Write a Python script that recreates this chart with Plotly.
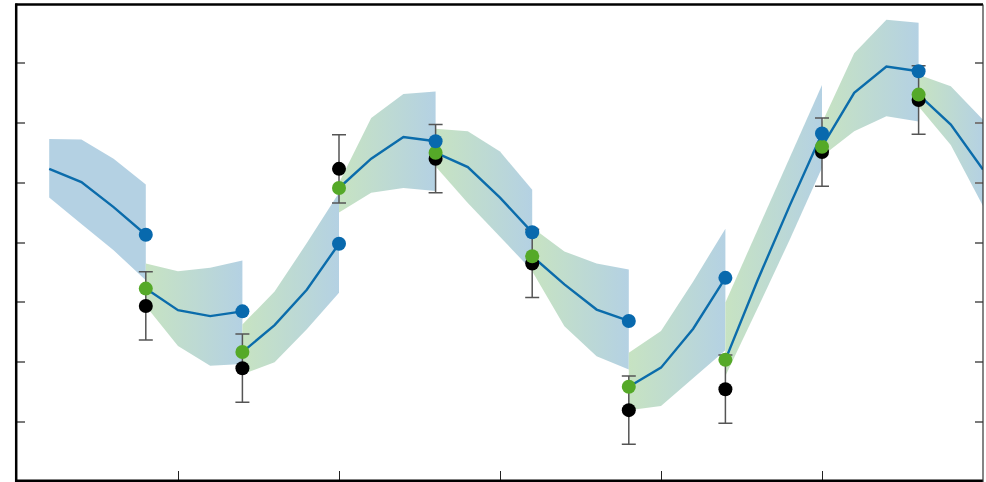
import plotly.graph_objects as go

# Observation times, observed values and their error half-widths
obs_t = [4, 7, 10, 13, 16, 19, 22, 25, 28]
obs_y = [-1.06, -2.10, 1.23, 1.40, -0.35, -2.80, -2.45, 1.51, 2.38]
obs_err = [0.57, 0.57, 0.57, 0.57, 0.57, 0.57, 0.57, 0.57, 0.57]

# Start time of each forecast segment (model output every 1 time unit)
seg_start = [1, 4, 7, 10, 13, 16, 19, 22, 25, 28]

# Ensemble mean trajectory of each segment (first value = analysis, last = forecast)
mean_path = [
    [1.23, 1.01, 0.59, 0.13],
    [-0.77, -1.13, -1.23, -1.15],
    [-1.83, -1.38, -0.79, -0.02],
    [0.91, 1.40, 1.76, 1.69],
    [1.50, 1.26, 0.75, 0.17],
    [-0.23, -0.70, -1.12, -1.31],
    [-2.41, -2.09, -1.44, -0.59],
    [-1.96, -0.63, 0.62, 1.82],
    [1.60, 2.50, 2.94, 2.86],
    [2.47, 1.97, 1.22],
]

# Upper / lower edges of the ensemble spread
upper_path = [
    [1.73, 1.72, 1.40, 0.97],
    [-0.35, -0.48, -0.42, -0.30],
    [-1.37, -0.82, -0.01, 0.83],
    [1.00, 2.08, 2.48, 2.52],
    [1.90, 1.86, 1.52, 0.88],
    [0.25, -0.15, -0.35, -0.45],
    [-1.84, -1.48, -0.65, 0.23],
    [-1.00, 0.21, 1.41, 2.63],
    [2.00, 3.16, 3.72, 3.67],
    [2.80, 2.61, 2.05],
]
lower_path = [
    [0.75, 0.31, -0.13, -0.63],
    [-1.06, -1.73, -2.06, -2.03],
    [-2.20, -2.00, -1.45, -0.84],
    [0.50, 0.83, 0.91, 0.86],
    [1.27, 0.66, 0.10, -0.47],
    [-0.48, -1.40, -1.90, -2.12],
    [-2.80, -2.73, -2.27, -1.80],
    [-2.23, -1.10, 0.05, 1.25],
    [1.44, 1.86, 2.11, 2.02],
    [2.27, 1.63, 0.61],
]

x_ticks = [5, 10, 15, 20, 25]
y_ticks = [-3, -2, -1, 0, 1, 2, 3]

GREEN_FILL = "#c7e3c2"
BLUE_FILL = "#b4d1e3"
LINE_BLUE = "#0b6cab"
DOT_BLUE = "#0869ad"
DOT_GREEN = "#55a928"

fig = go.Figure()

# Spread bands, shaded from analysis (green) to forecast (blue)
for k, t0 in enumerate(seg_start):
    n = len(mean_path[k])
    ts = [t0 + i for i in range(n)]
    xs = ts + ts[::-1]
    ys = upper_path[k] + lower_path[k][::-1]
    left = BLUE_FILL if k == 0 else GREEN_FILL
    fig.add_trace(go.Scatter(
        x=xs, y=ys, mode="lines", fill="toself",
        line=dict(width=0, color="rgba(0,0,0,0)"),
        fillgradient=dict(type="horizontal",
                          colorscale=[[0, left], [1, BLUE_FILL]],
                          start=ts[0], stop=ts[-1]),
        hoverinfo="skip", showlegend=False,
    ))

# Mean trajectories
for k, t0 in enumerate(seg_start):
    ts = [t0 + i for i in range(len(mean_path[k]))]
    fig.add_trace(go.Scatter(
        x=ts, y=mean_path[k], mode="lines",
        line=dict(color=LINE_BLUE, width=2.4),
        showlegend=False, hoverinfo="skip",
    ))

# Observations with error bars
fig.add_trace(go.Scatter(
    x=obs_t, y=obs_y, mode="markers",
    marker=dict(color="black", size=14, line=dict(width=0)),
    error_y=dict(type="data", array=obs_err, visible=True,
                 color="#555555", thickness=1.5, width=7),
    showlegend=False,
))

# Analysis values (start of segments 2..n)
analysis_y = [p[0] for p in mean_path[1:]]
fig.add_trace(go.Scatter(
    x=obs_t, y=analysis_y, mode="markers",
    marker=dict(color=DOT_GREEN, size=14, line=dict(width=0)),
    showlegend=False,
))

# Forecast values (end of segments 1..n-1)
forecast_y = [p[-1] for p in mean_path[:-1]]
fig.add_trace(go.Scatter(
    x=obs_t, y=forecast_y, mode="markers",
    marker=dict(color=DOT_BLUE, size=14, line=dict(width=0)),
    showlegend=False,
))

W, H = 986, 482
ml, mr, mt, mb = 17, 3, 3, 0
pw, ph = W - ml - mr, H - mt - mb

fig.update_layout(
    width=W, height=H,
    margin=dict(l=ml, r=mr, t=mt, b=mb, pad=0),
    paper_bgcolor="white", plot_bgcolor="white",
    xaxis=dict(range=[0, 30], showgrid=False, zeroline=False, showline=False,
               tickvals=x_ticks, ticks="inside", ticklen=11, tickwidth=1,
               tickcolor="#222222", showticklabels=False),
    yaxis=dict(range=[-4, 4], showgrid=False, zeroline=False, showline=False,
               tickvals=y_ticks, ticks="inside", ticklen=8, tickwidth=2,
               tickcolor="#7a7a7a", mirror="ticks", showticklabels=False),
    showlegend=False,
)

# Frame around the axes
fx = 1.0 / pw
fy = 1.0 / ph
frame = [
    dict(x0=-0.8 * fx, x1=-0.8 * fx, y0=-0.01, y1=1 - 1.5 * fy + 0.002, w=2.5, c="black"),
    dict(x0=-0.8 * fx - 0.001, x1=1.0, y0=1 - 1.5 * fy, y1=1 - 1.5 * fy, w=2.5, c="black"),
    dict(x0=-0.8 * fx - 0.001, x1=1.0, y0=1.2 * fy, y1=1.2 * fy, w=2.5, c="black"),
    dict(x0=1.0, x1=1.0, y0=0, y1=1 - 1.5 * fy, w=1.2, c="#333333"),
]
for s in frame:
    fig.add_shape(type="line", xref="paper", yref="paper",
                  x0=s["x0"], x1=s["x1"], y0=s["y0"], y1=s["y1"],
                  line=dict(color=s["c"], width=s["w"]), layer="above")

fig.write_html("out.html")
